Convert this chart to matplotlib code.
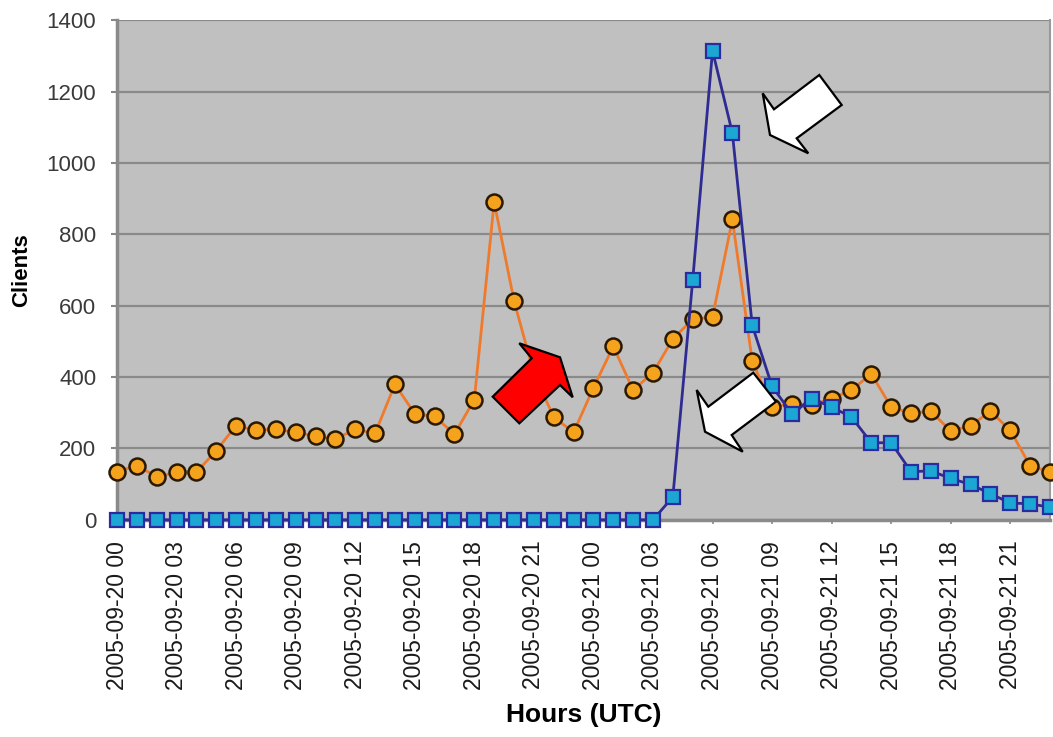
import matplotlib
matplotlib.use("Agg")
import matplotlib.pyplot as plt
from matplotlib.patches import Polygon
import numpy as np

plt.rcParams['font.family'] = ['Liberation Sans', 'DejaVu Sans']

# === Data === #
hours = np.arange(48)  # 2005-09-20 00 .. 2005-09-21 23
orange_clients = [135, 152, 121, 133, 133, 194, 264, 251, 254, 245,
                  235, 226, 254, 242, 380, 297, 290, 240, 337, 891,
                  614, 410, 288, 245, 370, 486, 364, 412, 507, 562,
                  569, 842, 445, 316, 326, 321, 340, 364, 409, 316,
                  299, 304, 249, 264, 304, 251, 151, 135]
blue_clients = [0] * 28 + [64, 671, 1315, 1084, 545, 374, 297, 340, 316, 288,
                           216, 216, 135, 137, 116, 99, 73, 47, 45, 35]
tick_hours = list(range(0, 48, 3))
tick_labels = ["2005-09-%02d %02d" % (20 + h // 24, h % 24) for h in tick_hours]

# === Figure === #
W, H = 1053, 737
fig = plt.figure(figsize=(W / 100, H / 100), dpi=100)
ax = fig.add_axes([117 / W, 1 - 519.8 / H, (1050 - 117) / W, (519.8 - 20.4) / H])
ax.set_facecolor("#c0c0c0")

ax.plot(hours, orange_clients, color="#f07a2c", lw=2.0, marker="o", ms=11.5,
        mfc="#f5a21c", mec="#2a1800", mew=1.8, clip_on=False, zorder=3)
ax.plot(hours, blue_clients, color="#2e2c92", lw=2.0, marker="s", ms=10.5,
        mfc="#1ba6d4", mec="#2b2ba0", mew=1.6, clip_on=False, zorder=4)

ax.set_xlim(0, 47)
ax.set_ylim(0, 1400)
ax.set_yticks(range(0, 1401, 200))
ax.set_xticks(tick_hours)
ax.set_xticklabels(tick_labels, rotation=90, fontsize=16.5, color="#1a1a1a")
ax.tick_params(axis="y", labelsize=16, colors="#888888", labelcolor="#3a3a3a",
               length=4, width=1.5, pad=11)
ax.tick_params(axis="x", colors="#888888", labelcolor="#1a1a1a",
               length=3, width=1.2, pad=12)

ax.yaxis.grid(True, color="#8a8a8a", lw=1.6)
ax.set_axisbelow(True)
for side in ["left", "bottom"]:
    ax.spines[side].set_color("#8a8a8a")
    ax.spines[side].set_linewidth(2.5)
ax.spines["top"].set_visible(False)
ax.spines["right"].set_color("#999999")
ax.spines["right"].set_linewidth(1.5)

ax.set_ylabel("Clients", fontsize=16, fontweight="bold")
ax.yaxis.set_label_coords((32 - 117) / 933, 0.5)
ax.set_xlabel("Hours (UTC)", fontsize=19, fontweight="bold", labelpad=10)

# === Arrows (image pixel coords, y down) === #
def fig_arrow(pts, color):
    verts = [(x / W, 1 - y / H) for x, y in pts]
    fig.add_artist(Polygon(verts, closed=True, facecolor=color, edgecolor="black",
                           lw=1.6, transform=fig.transFigure, zorder=5))

fig_arrow([(492.7, 396.7), (531.7, 358.3), (519.3, 343.3), (560, 357.3),
           (572.7, 397.3), (560, 385), (519.3, 423.3)], "#ff0000")
fig_arrow([(753.3, 372.7), (776, 401.7), (731.7, 435), (742.7, 451.7),
           (705, 431.7), (696.7, 390), (708.3, 406.7)], "white")
fig_arrow([(819.3, 75), (841.7, 105), (796.7, 138.3), (808.3, 153.3),
           (770, 135), (762.7, 93.3), (774, 109.3)], "white")

fig.savefig("out.png", dpi=100)
